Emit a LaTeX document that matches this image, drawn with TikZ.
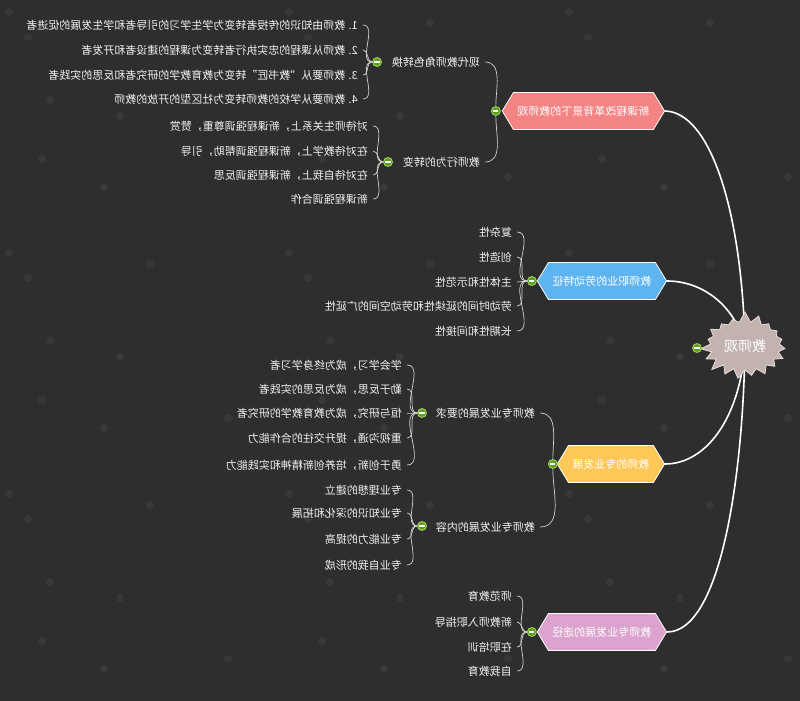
\documentclass[tikz,border=0pt]{standalone}
\usepackage{fontspec}
\newfontfamily\cjk{Noto Sans CJK SC}
\usetikzlibrary{shapes.symbols}

\definecolor{bgcolor}{HTML}{2E2E2E}
\definecolor{dotcolor}{HTML}{383838}
\definecolor{textcolor}{HTML}{F0F0F0}
\definecolor{linecolor}{HTML}{D2D2D2}
\definecolor{btngreen}{HTML}{5E9F22}
\definecolor{btnrim}{HTML}{A2D85A}
\definecolor{pinkfill}{HTML}{F48383}
\definecolor{bluefill}{HTML}{5DB4F0}
\definecolor{yellowfill}{HTML}{FEC859}
\definecolor{purplefill}{HTML}{DBA3CD}
\definecolor{rootfill}{HTML}{C2B2B0}
\definecolor{rootrim}{HTML}{E8DEDC}

\tikzset{
  leaf/.style={anchor=east, inner xsep=5pt, inner ysep=1pt, text=textcolor,
    font=\cjk\fontsize{11}{13}\selectfont},
  topic/.style={signal, signal to=east and west, signal pointer angle=118,
    draw=white, line width=0.8pt, text=white, minimum height=37pt,
    inner xsep=4pt, anchor=east, font=\cjk\fontsize{11}{13}\selectfont},
  rootburst/.style={starburst, starburst points=19, starburst point height=11pt,
    random starburst=7, fill=rootfill, draw=rootrim, line width=0.8pt,
    minimum width=84pt, minimum height=70pt, text=white,
    font=\cjk\fontsize{14}{16}\selectfont},
  btn/.style={circle, fill=btngreen, draw=btnrim, line width=0.8pt,
    minimum size=9pt, inner sep=0pt,
    path picture={\draw[white, line width=1.3pt]
      ([xshift=-2.6pt]path picture bounding box.center) --
      ([xshift=2.6pt]path picture bounding box.center);}},
  leafline/.style={draw=linecolor, line width=0.7pt},
  mainline/.style={draw=white, line width=1.6pt},
}

\begin{document}
\begin{tikzpicture}[x=1pt,y=-1pt]
\useasboundingbox[fill=bgcolor] (0,0) rectangle (800,701);

% background dots
\begin{scope}
\clip (0,0) rectangle (800,701);
\foreach \ox in {0,280,560}
  \foreach \oy in {0,241,482}
    \foreach \px/\py in {9/12,150/23,28/37,50/100,120/116,42/159,104/187,228/177}
      \fill[dotcolor] (\ox+\px,\oy+\py) circle (4pt);
\end{scope}

\coordinate (root_c) at (745,346);

% main topics
\node[topic, fill=pinkfill] (topic_reform) at (665,111) {\reflectbox{新课程改革背景下的教师观}};
\node[topic, fill=bluefill] (topic_labor) at (667,281) {\reflectbox{教师职业的劳动特征}};
\node[topic, fill=yellowfill] (topic_growth) at (665,464) {\reflectbox{教师的专业发展}};
\node[topic, fill=purplefill] (topic_path) at (667,632) {\reflectbox{教师专业发展的途径}};

\draw[mainline] (topic_reform.east) .. controls (710,112) and (742,210) .. (root_c);
\draw[mainline] (topic_labor.east) .. controls (702,281) and (735,305) .. (root_c);
\draw[mainline] (topic_growth.east) .. controls (705,464) and (740,420) .. (root_c);
\draw[mainline] (topic_path.east) .. controls (720,632) and (743,480) .. (root_c);

\node[btn] (btn_reform) at ([xshift=-6pt]topic_reform.west) {};
\node[btn] (btn_labor) at ([xshift=-5pt]topic_labor.west) {};
\node[btn] (btn_growth) at ([xshift=-4pt]topic_growth.west) {};
\node[btn] (btn_path) at ([xshift=-5pt]topic_path.west) {};

% sub topics
\node[leaf] (sub_modern) at (485,62) {\reflectbox{现代教师角色转换}};
\node[leaf] (sub_behav) at (485,162) {\reflectbox{教师行为的转变}};
\node[leaf] (sub_req) at (540,413) {\reflectbox{教师专业发展的要求}};
\node[leaf] (sub_cont) at (540,527) {\reflectbox{教师专业发展的内容}};
\draw[leafline] (sub_modern.east) to[out=0,in=90] (btn_reform);
\draw[leafline] (sub_behav.east) to[out=0,in=270] (btn_reform);
\draw[leafline] (sub_req.east) to[out=0,in=90] (btn_growth);
\draw[leafline] (sub_cont.east) to[out=0,in=270] (btn_growth);

\node[btn] (btn_modern) at (377,62) {};
\node[btn] (btn_behav) at (388,162) {};
\node[btn] (btn_req) at (422,413) {};
\node[btn] (btn_cont) at (422,526) {};

% leaves
\foreach \yy/\txt [count=\i] in {25/{1. 教师由知识的传授者转变为学生学习的引导者和学生发展的促进者},
    50/{2. 教师从课程的忠实执行者转变为课程的建设者和开发者},
    75/{3. 教师要从“教书匠”转变为教育教学的研究者和反思的实践者},
    99/{4. 教师要从学校的教师转变为社区型的开放的教师}} {
  \node[leaf] (leaf_modern_\i) at (363,\yy) {\reflectbox{\txt}};
  \draw[leafline] (leaf_modern_\i.east) to[out=0,in=180] (btn_modern);
}
\foreach \yy/\txt [count=\i] in {126/{对待师生关系上，新课程强调尊重，赞赏},
    151/{在对待教学上，新课程强调帮助，引导},
    175/{在对待自我上，新课程强调反思},
    199/{新课程强调合作}} {
  \node[leaf] (leaf_behav_\i) at (373,\yy) {\reflectbox{\txt}};
  \draw[leafline] (leaf_behav_\i.east) to[out=0,in=180] (btn_behav);
}
\foreach \yy/\txt [count=\i] in {232/复杂性, 257/创造性, 282/主体性和示范性,
    306/劳动时间的延续性和劳动空间的广延性, 331/长期性和间接性} {
  \node[leaf] (leaf_labor_\i) at (517,\yy) {\reflectbox{\txt}};
  \draw[leafline] (leaf_labor_\i.east) to[out=0,in=180] (btn_labor);
}
\foreach \yy/\txt [count=\i] in {365/{学会学习，成为终身学习者},
    389/{勤于反思，成为反思的实践者},
    413/{恒与研究，成为教育教学的研究者},
    438/{重视沟通，提升交往的合作能力},
    465/{勇于创新，培养创新精神和实践能力}} {
  \node[leaf] (leaf_req_\i) at (407,\yy) {\reflectbox{\txt}};
  \draw[leafline] (leaf_req_\i.east) to[out=0,in=180] (btn_req);
}
\foreach \yy/\txt [count=\i] in {490/专业理想的建立, 513/专业知识的深化和拓展,
    539/专业能力的提高, 565/专业自我的形成} {
  \node[leaf] (leaf_cont_\i) at (407,\yy) {\reflectbox{\txt}};
  \draw[leafline] (leaf_cont_\i.east) to[out=0,in=180] (btn_cont);
}
\foreach \yy/\txt [count=\i] in {596/师范教育, 622/新教师入职指导, 647/在职培训, 671/自我教育} {
  \node[leaf] (leaf_path_\i) at (517,\yy) {\reflectbox{\txt}};
  \draw[leafline] (leaf_path_\i.east) to[out=0,in=180] (btn_path);
}

% root
\node[rootburst] (root) at (root_c) {\reflectbox{教师观}};
\node[btn] (btn_root) at (697,348) {};
\end{tikzpicture}
\end{document}
